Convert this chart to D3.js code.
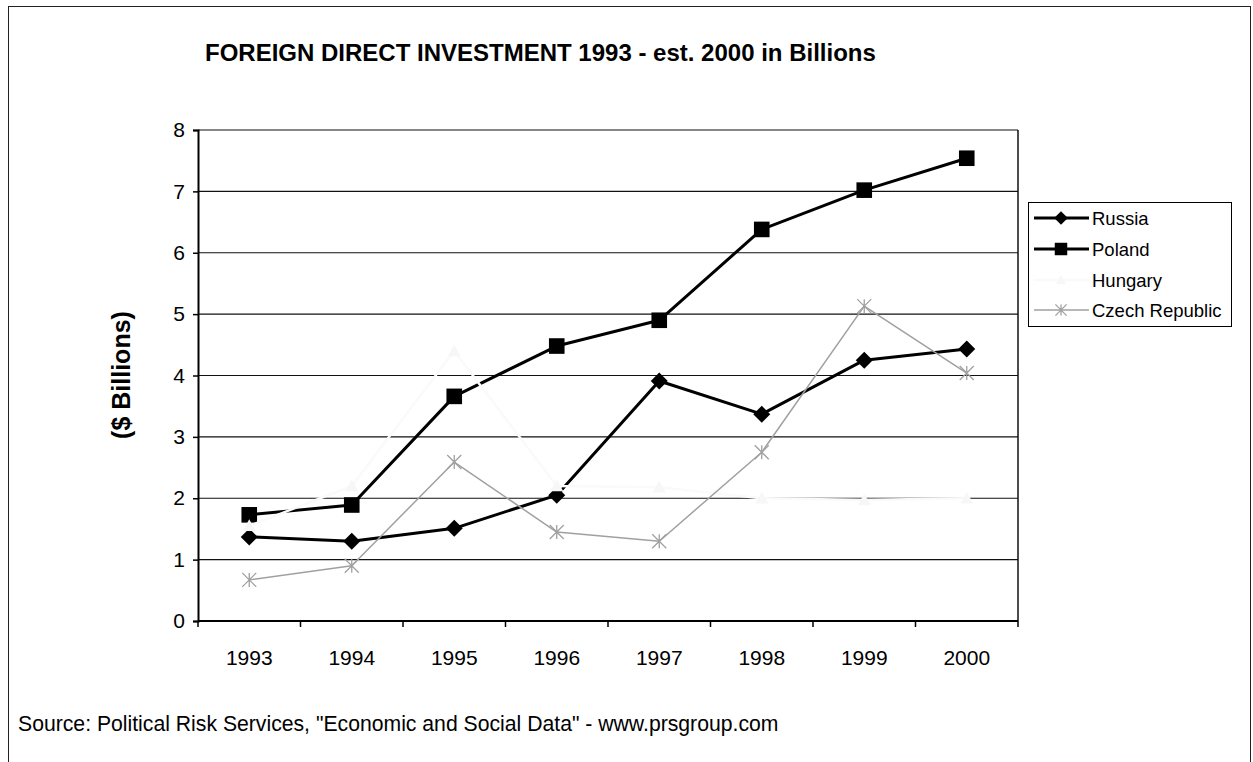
<!DOCTYPE html>
<html>
<head>
<meta charset="utf-8">
<script src="https://cdn.jsdelivr.net/npm/d3@7"></script>
<style>
  html, body { margin: 0; padding: 0; background: #fff; }
  svg { display: block; font-family: Arial, "Liberation Sans", sans-serif; }
</style>
</head>
<body>
<svg id="chart" width="1253" height="762"></svg>
<script>
// Foreign direct investment, $ billions
const years = ["1993", "1994", "1995", "1996", "1997", "1998", "1999", "2000"];
const russia = [1.37, 1.30, 1.51, 2.05, 3.91, 3.37, 4.25, 4.43];
const poland = [1.73, 1.89, 3.66, 4.48, 4.90, 6.38, 7.02, 7.54];
const hungary = [1.55, 2.20, 4.40, 2.20, 2.18, 2.00, 1.97, 2.00];
const czech = [0.67, 0.90, 2.59, 1.45, 1.30, 2.75, 5.13, 4.04];
const seriesNames = ["Russia", "Poland", "Hungary", "Czech Republic"];
const yTicks = [0, 1, 2, 3, 4, 5, 6, 7, 8];

const series = [
  { name: seriesNames[0], values: russia, stroke: "#000", width: 3, marker: "diamond", fill: "#000", r: 8.5 },
  { name: seriesNames[1], values: poland, stroke: "#000", width: 3, marker: "square", fill: "#000", r: 7.8 },
  { name: seriesNames[2], values: hungary, stroke: "#fafafa", width: 2.5, marker: "triangle", fill: "#f7f7f7", r: 6.5 },
  { name: seriesNames[3], values: czech, stroke: "#a0a0a0", width: 1.5, marker: "x", fill: "none", r: 7 }
];

const svg = d3.select("#chart");

// outer frame
svg.append("rect")
  .attr("x", 8.5).attr("y", 6.5)
  .attr("width", 1242).attr("height", 800)
  .attr("fill", "none").attr("stroke", "#222").attr("stroke-width", 1);

const plot = { left: 198, right: 1018, top: 130, bottom: 621 };

const x = d3.scaleBand().domain(years).range([plot.left, plot.right]);
const xc = d => x(d) + x.bandwidth() / 2;
const y = d3.scaleLinear().domain([0, 8]).range([plot.bottom, plot.top]);

// title
svg.append("text")
  .attr("x", 205).attr("y", 61)
  .attr("font-size", 24).attr("font-weight", "bold")
  .text("FOREIGN DIRECT INVESTMENT 1993 - est. 2000 in Billions");

// horizontal gridlines
svg.append("g")
  .selectAll("line")
  .data(yTicks.filter(t => t > 0))
  .join("line")
  .attr("x1", plot.left).attr("x2", plot.right)
  .attr("y1", d => y(d)).attr("y2", d => y(d))
  .attr("stroke", "#111").attr("stroke-width", 1.2);

// right border of plot area
svg.append("line")
  .attr("x1", plot.right).attr("x2", plot.right)
  .attr("y1", plot.top).attr("y2", plot.bottom)
  .attr("stroke", "#111").attr("stroke-width", 1.5);

// y axis
const yAxis = svg.append("g")
  .attr("transform", `translate(${plot.left},0)`)
  .call(d3.axisLeft(y).tickValues(yTicks).tickSize(5).tickPadding(8).tickFormat(d3.format("d")));
yAxis.select(".domain").attr("stroke", "#000").attr("stroke-width", 2);
yAxis.selectAll(".tick line").attr("stroke", "#000").attr("stroke-width", 1.5);
yAxis.selectAll(".tick text").attr("font-size", 21).attr("fill", "#000")
  .attr("font-family", "Arial, 'Liberation Sans', sans-serif");

// x axis: ticks at category boundaries, labels centred in each category
const xAxis = svg.append("g");
xAxis.append("line")
  .attr("x1", plot.left).attr("x2", plot.right)
  .attr("y1", plot.bottom).attr("y2", plot.bottom)
  .attr("stroke", "#000").attr("stroke-width", 2);
xAxis.selectAll("line.tick")
  .data(years.map(d => x(d)).concat([plot.right]))
  .join("line").attr("class", "tick")
  .attr("x1", d => d).attr("x2", d => d)
  .attr("y1", plot.bottom).attr("y2", plot.bottom + 6)
  .attr("stroke", "#000").attr("stroke-width", 1.5);
xAxis.selectAll("text")
  .data(years)
  .join("text")
  .attr("x", d => xc(d)).attr("y", 665)
  .attr("text-anchor", "middle").attr("font-size", 21)
  .text(d => d);

// y axis title
svg.append("text")
  .attr("transform", "translate(130,375) rotate(-90)")
  .attr("text-anchor", "middle")
  .attr("font-size", 25).attr("font-weight", "bold")
  .text("($ Billions)");

// source note
svg.append("text")
  .attr("x", 18).attr("y", 731)
  .attr("font-size", 21.2)
  .text("Source: Political Risk Services, \"Economic and Social Data\" - www.prsgroup.com");

// marker drawing helper
function drawMarker(g, s, cx, cy, scale) {
  const r = s.r * scale;
  if (s.marker === "x") {
    g.append("path")
      .attr("d", `M${cx - r},${cy - r}L${cx + r},${cy + r}M${cx - r},${cy + r}L${cx + r},${cy - r}M${cx},${cy - r}L${cx},${cy + r}`)
      .attr("stroke", s.stroke).attr("stroke-width", 1.3).attr("fill", "none");
  } else if (s.marker === "diamond") {
    g.append("path")
      .attr("d", `M${cx},${cy - r}L${cx + r},${cy}L${cx},${cy + r}L${cx - r},${cy}Z`)
      .attr("fill", s.fill);
  } else if (s.marker === "square") {
    g.append("rect")
      .attr("x", cx - r).attr("y", cy - r).attr("width", 2 * r).attr("height", 2 * r)
      .attr("fill", s.fill);
  } else {
    g.append("path")
      .attr("d", `M${cx},${cy - r}L${cx + r},${cy + r * 0.8}L${cx - r},${cy + r * 0.8}Z`)
      .attr("fill", s.fill);
  }
}

// series lines and markers
const line = d3.line().x((v, i) => xc(years[i])).y(v => y(v));
series.forEach(s => {
  const g = svg.append("g");
  g.append("path")
    .attr("d", line(s.values))
    .attr("fill", "none").attr("stroke", s.stroke).attr("stroke-width", s.width)
    .attr("stroke-linejoin", "round");
  s.values.forEach((v, i) => drawMarker(g, s, xc(years[i]), y(v), 1));
});

// legend
const legend = svg.append("g");
legend.append("rect")
  .attr("x", 1028.5).attr("y", 202.5).attr("width", 203).attr("height", 124)
  .attr("fill", "#fff").attr("stroke", "#000").attr("stroke-width", 1);
const legendY = [218, 249, 280, 310];
series.forEach((s, i) => {
  const ly = legendY[i];
  legend.append("line")
    .attr("x1", 1034).attr("x2", 1089).attr("y1", ly).attr("y2", ly)
    .attr("stroke", s.stroke).attr("stroke-width", s.width);
  drawMarker(legend, s, 1061, ly, 0.8);
  legend.append("text")
    .attr("x", 1092).attr("y", ly + 6.5)
    .attr("font-size", 18.5)
    .text(s.name);
});
</script>
</body>
</html>
